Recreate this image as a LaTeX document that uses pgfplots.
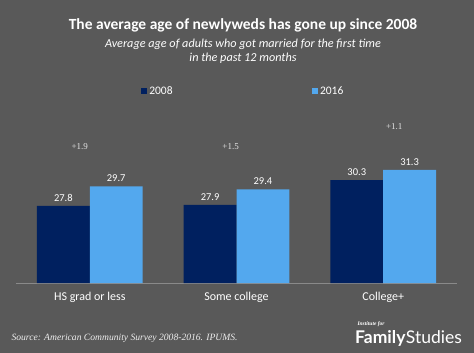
\documentclass[border=0pt]{standalone}
\usepackage{pgfplots}
\pgfplotsset{compat=1.18}
\usepackage{fontspec}
\setmainfont{Carlito}
\newfontfamily\tnr{Liberation Serif}
\newfontfamily\logofont{Lato}
\definecolor{bg}{HTML}{595959}
\definecolor{navy}{HTML}{00205F}
\definecolor{lblue}{HTML}{53A8EE}
\definecolor{axl}{HTML}{8A8A8A}
\begin{document}
\begin{tikzpicture}
\fill[bg] (0,0) rectangle (474pt,-353pt);
\useasboundingbox (0,0) rectangle (474pt,-353pt);
\node[white,font=\fontsize{15.5}{18}\selectfont\bfseries] at (243pt,-25pt) {The average age of newlyweds has gone up since 2008};
\node[white,font=\fontsize{12.2}{14.5}\selectfont\itshape,align=center] at (243pt,-51pt) {Average age of adults who got married for the first time\\in the past 12 months};
\begin{axis}[
  at={(16pt,-283pt)}, anchor=south west,
  scale only axis, width=441pt, height=183pt,
  ymin=20.3, ymax=38.08, xmin=-0.503, xmax=2.503,
  ybar, bar width=0.36, clip=false,
  axis y line=none, axis x line*=bottom,
  x axis line style={axl, line width=0.6pt, -},
  xtick={0,1,2}, xticklabels={HS grad or less, Some college, College+},
  major tick length=0pt,
  xticklabel style={white, font=\fontsize{12}{13}\selectfont, yshift=-6pt},
  nodes near coords, point meta=explicit symbolic,
  every node near coord/.append style={white, font=\fontsize{10.5}{12}\selectfont, yshift=1pt},
  legend columns=2,
  legend style={at={(0.515,1.049)}, anchor=center, draw=none, fill=none, text=white,
    font=\fontsize{11.5}{13}\selectfont, /tikz/every even column/.append style={column sep=137pt}},
  legend image code/.code={\fill[#1] (0pt,-3.2pt) rectangle (6.4pt,3.2pt);},
]
\addplot[fill=navy, draw=none, bar shift=-0.18] coordinates {(0,27.8)[27.8] (1,27.9)[27.9] (2,30.3)[30.3]};
\addplot[fill=lblue, draw=none, bar shift=0.18] coordinates {(0,29.7)[29.7] (1,29.4)[29.4] (2,31.3)[31.3]};
\legend{2008,2016}
\node[text=white!85!bg, font=\tnr\fontsize{9}{10}\selectfont] at (axis cs:-0.068,33.6) {+1.9};
\node[text=white!85!bg, font=\tnr\fontsize{9}{10}\selectfont] at (axis cs:0.96,33.6) {+1.5};
\node[text=white!85!bg, font=\tnr\fontsize{9}{10}\selectfont] at (axis cs:2.075,35.46) {+1.1};
\end{axis}
\node[white!90!bg, anchor=west, font=\tnr\itshape\fontsize{9.6}{10}\selectfont] at (8pt,-338pt) {Source: American Community Survey 2008-2016. IPUMS.};
\node[white, anchor=west, font=\tnr\itshape\bfseries\fontsize{5.5}{6}\selectfont] at (354pt,-324pt) {Institute for};
\node[white, anchor=base west, font=\logofont\fontsize{17.5}{18}\selectfont, inner sep=0pt] at (355pt,-343pt) {\textbf{Family}\kern0.5pt Studies};
\end{tikzpicture}
\end{document}
